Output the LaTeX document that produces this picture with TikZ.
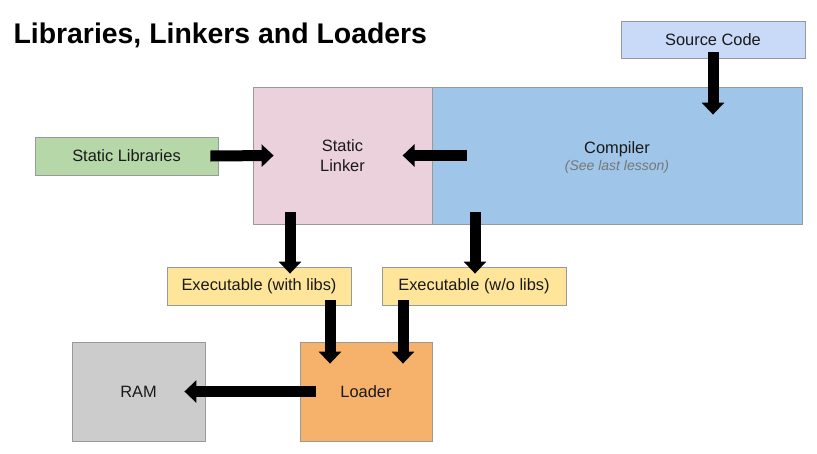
\documentclass[tikz,border=0pt]{standalone}
\usepackage{fontspec}
\setmainfont{Liberation Sans}
\usetikzlibrary{arrows.meta}
\definecolor{csrc}{HTML}{C9DAF8}
\definecolor{clink}{HTML}{EAD1DC}
\definecolor{ccomp}{HTML}{9FC5E8}
\definecolor{cslib}{HTML}{B6D7A8}
\definecolor{cexe}{HTML}{FFE599}
\definecolor{cload}{HTML}{F6B26B}
\definecolor{cram}{HTML}{CCCCCC}
\definecolor{cbord}{HTML}{999999}
\definecolor{cnote}{HTML}{777777}
\begin{document}
\begin{tikzpicture}[x=1pt,y=-1pt,
  box/.style={draw=cbord,line width=0.8pt,rectangle,inner sep=0pt,align=center,
    font=\fontsize{16.4}{20}\selectfont,text=black!90},
  blk/.style={line width=11pt,-{Triangle[length=12pt,width=22pt]}}]
\useasboundingbox (0,0) rectangle (817,453);
\node[anchor=base west,font=\fontsize{28.4}{32}\selectfont\bfseries] (title) at (10,43) {Libraries, Linkers and Loaders};
\node[box,fill=csrc,minimum width=184pt,minimum height=37pt] (src) at (713,39.5) {Source Code};
\node[box,fill=clink,minimum width=179pt,minimum height=137pt] (link) at (342.5,155.5) {Static\\Linker};
\node[box,fill=ccomp,minimum width=370pt,minimum height=137pt] (comp) at (617,155.5) {};
\node[align=center,inner sep=0pt,font=\fontsize{16.4}{20}\selectfont,text=black!90] (comptxt) at ([yshift=-2pt]comp.center) {Compiler\\[-3pt]{\fontsize{14}{16}\selectfont\itshape\color{cnote}(See last lesson)}};
\node[box,fill=cslib,minimum width=183pt,minimum height=38pt] (slib) at (126.5,156) {Static Libraries};
\node[box,fill=cexe,minimum width=184pt,minimum height=38pt] (exe1) at (259,286) {Executable (with libs)};
\node[box,fill=cexe,minimum width=184pt,minimum height=38pt] (exe2) at (474,286) {Executable (w/o libs)};
\node[box,fill=cload,minimum width=132pt,minimum height=99pt] (loader) at (366,391.5) {Loader};
\node[box,fill=cram,minimum width=133pt,minimum height=99pt] (ram) at (138.5,391.5) {RAM};
\draw[blk] ([yshift=6pt]src.south) -- ([xshift=96pt,yshift=-28pt]comp.north);
\draw[blk] ([xshift=-8pt]slib.east) -- ([xshift=21pt]link.west);
\draw[blk] ([xshift=35pt]comp.west) -- ([xshift=-29pt]comp.west);
\draw[blk] ([xshift=-52.5pt,yshift=12pt]link.south) -- ([xshift=31pt,yshift=-7pt]exe1.north);
\draw[blk] ([xshift=-142pt,yshift=12pt]comp.south) -- ([xshift=1pt,yshift=-7pt]exe2.north);
\draw[blk] ([xshift=71pt,yshift=5pt]exe1.south) -- ([xshift=-36pt,yshift=-22pt]loader.north);
\draw[blk] ([xshift=-71pt,yshift=5pt]exe2.south) -- ([xshift=37pt,yshift=-22pt]loader.north);
\draw[blk] ([xshift=16pt]loader.west) -- ([xshift=-21pt]ram.east);
\end{tikzpicture}
\end{document}
